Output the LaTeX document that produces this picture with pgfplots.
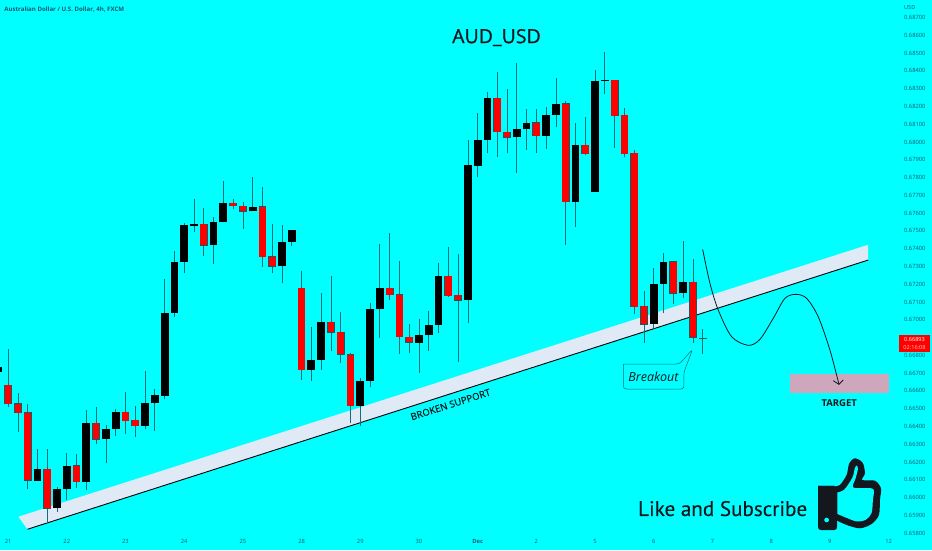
\documentclass[border=0pt]{standalone}
\usepackage{fontspec}
\setmainfont{Open Sans}
\newfontfamily\headfont[FakeBold=0.8]{Open Sans}
\newfontfamily\likefont[FakeBold=0.2]{PT Sans}
\newfontfamily\semifont[FakeBold=0.4]{Open Sans}
\usepackage{pgfplots}
\usepackage{pgfplotstable}
\pgfplotsset{compat=1.18}

\definecolor{bgcyan}{HTML}{00FFFF}
\definecolor{wickc}{HTML}{0F6E78}
\definecolor{edgec}{HTML}{1A5A60}
\definecolor{labelc}{HTML}{125A72}
\definecolor{bandc}{HTML}{DFEAF6}
\definecolor{targetc}{HTML}{CFA7BC}
\definecolor{thumbc}{HTML}{15171F}

% i low bottom top high
\pgfplotstableread{
i low bot top high
0 0.66508 0.66526 0.66631 0.66836
1 0.66371 0.66478 0.66528 0.66586
2 0.66048 0.66097 0.66478 0.66526
4 0.65855 0.65940 0.66159 0.66273
7 0.66056 0.66090 0.66179 0.66245
9 0.66301 0.66328 0.66418 0.66511
12 0.66358 0.66433 0.66479 0.66594
13 0.66343 0.66403 0.66434 0.66515
20 0.67359 0.67419 0.67537 0.67629
23 0.67621 0.67640 0.67655 0.67677
24 0.67512 0.67610 0.67638 0.67661
26 0.67299 0.67355 0.67636 0.67749
27 0.67261 0.67301 0.67355 0.67539
30 0.66661 0.66719 0.67177 0.67273
33 0.66824 0.66929 0.66988 0.67246
34 0.66759 0.66806 0.66929 0.67044
35 0.66418 0.66515 0.66804 0.66811
39 0.67111 0.67141 0.67179 0.67486
40 0.66808 0.66905 0.67141 0.67331
41 0.66811 0.66873 0.66903 0.66974
45 0.67130 0.67136 0.67246 0.67411
46 0.66764 0.67109 0.67138 0.67370
50 0.67917 0.68056 0.68245 0.68392
51 0.67936 0.68026 0.68056 0.68296
54 0.67940 0.68034 0.68109 0.68184
57 0.67422 0.67664 0.68215 0.68232
59 0.67927 0.67934 0.67983 0.68139
62 0.67968 0.68148 0.68347 0.68347
63 0.67914 0.67934 0.68150 0.68189
64 0.67033 0.67074 0.67936 0.67955
65 0.66871 0.66974 0.67076 0.67160
68 0.67087 0.67149 0.67327 0.67329
70 0.66871 0.66901 0.67213 0.67340
}\redc

\pgfplotstableread{
i low bot top high
-1 0.66706 0.66706 0.66732 0.66732
3 0.66093 0.66093 0.66159 0.66275
5 0.65921 0.65940 0.66048 0.66061
6 0.65986 0.66048 0.66179 0.66249
8 0.66043 0.66090 0.66418 0.66493
10 0.66193 0.66328 0.66384 0.66408
11 0.66348 0.66384 0.66481 0.66496
14 0.66384 0.66403 0.66530 0.66712
15 0.66374 0.66530 0.66575 0.66609
16 0.66553 0.66573 0.67038 0.67229
17 0.67017 0.67038 0.67325 0.67385
18 0.67261 0.67325 0.67531 0.67546
19 0.67492 0.67529 0.67537 0.67681
21 0.67312 0.67419 0.67550 0.67580
22 0.67548 0.67548 0.67655 0.67780
25 0.67610 0.67610 0.67636 0.67805
28 0.67205 0.67301 0.67436 0.67531
29 0.67415 0.67436 0.67505 0.67505
31 0.66654 0.66719 0.66772 0.66961
32 0.66718 0.66772 0.66988 0.67153
36 0.66403 0.66515 0.66658 0.66671
37 0.66620 0.66656 0.67059 0.67093
38 0.66899 0.67059 0.67179 0.67426
42 0.66703 0.66871 0.66913 0.67003
43 0.66826 0.66913 0.66969 0.67051
44 0.66924 0.66969 0.67246 0.67318
47 0.66980 0.67109 0.67869 0.68011
48 0.67805 0.67867 0.68009 0.68161
49 0.67936 0.68009 0.68245 0.68283
52 0.67827 0.68026 0.68071 0.68442
53 0.67955 0.68071 0.68109 0.68184
55 0.67961 0.68034 0.68150 0.68195
56 0.68082 0.68150 0.68214 0.68360
58 0.67524 0.67664 0.67983 0.68109
60 0.67721 0.67721 0.68343 0.68405
61 0.68268 0.68343 0.68347 0.68504
66 0.66950 0.66974 0.67203 0.67289
67 0.67036 0.67203 0.67325 0.67377
69 0.67121 0.67149 0.67213 0.67441
}\blackc

\pgfplotstableread{
i low bot top high
71 0.66808 0.66890 0.66899 0.66946
}\lastc

\pgfplotsset{
    full/.style={scale only axis, width=932pt, height=550pt, at={(0,0)}, anchor=south west},
    bar/.style n args={2}{draw=none, mark=none, forget plot,
        error bars/.cd, y dir=plus, y explicit, error mark=none,
        error bar style={draw=#1, line width=#2}},
}

\begin{document}
\begin{tikzpicture}
% drawings, in picture pixels
\begin{axis}[full, hide axis, xmin=0, xmax=932, ymin=0, ymax=550, y dir=reverse]
\addplot[fill=bgcyan, draw=none] coordinates {(0,0) (932,0) (932,550) (0,550)};
% band and support line
\addplot[fill=bandc, draw=none] coordinates {(18.3,516.7) (868.3,244.7) (868.3,260) (27.3,529.3)};
\addplot[black, line width=0.9pt] coordinates {(27.3,529.3) (868.3,260)};
% target zone
\addplot[fill=targetc, draw=none] coordinates {(790,374.3) (889,374.3) (889,393.3) (790,393.3)};
% projected path
\addplot[thumbc, line width=0.8pt, smooth] coordinates {
    (702.7,249.3) (710,283.3) (718.3,310) (731.7,336.7) (748.3,345.3) (760,339.3)
    (773.3,318.3) (785,298.3) (796,294.3) (806.7,298.3) (818.3,316.7) (830,350) (839,384.3)};
\addplot[thumbc, line width=0.8pt] coordinates {(833.3,380.7) (839,384.3) (843.3,380)};
% breakout callout
\addplot[fill=bgcyan, draw=wickc, line width=0.5pt, rounded corners=3pt] coordinates {
    (623.3,364) (679.3,364) (692.7,349.3) (684,372) (684,389) (623.3,389) (623.3,364)};
% thumb
\addplot[fill=thumbc, draw=thumbc, line width=0.3pt, rounded corners=3pt] coordinates {
    (818.3,486) (837,486) (837,530) (818.3,530) (818.3,486)};
\addplot[fill=thumbc, draw=none, smooth] coordinates {
    (836,486) (840,485) (846.7,475) (849.3,463.3) (855,458.3) (862.7,462.7) (865,473.3)
    (862.3,480) (875,480.7) (881,488.3) (880,500) (879,515) (871.7,524) (860,528.3)
    (846.7,525) (836,520)};
\addplot[fill=bgcyan, draw=none, smooth] coordinates {
    (837.5,492.5) (844.5,489.5) (852.5,477.5) (855,468) (856.8,465.5) (858,469)
    (855.7,478.3) (853.5,487.5) (871,488.2) (874,491) (873,500) (871.7,513) (866,519.7)
    (857,521.5) (847,518) (837.5,514)};
\addplot[only marks, mark=*, mark size=2.8pt, mark options={fill=bgcyan, draw=none}] coordinates {(826.7,520)};
% last price box
\addplot[fill=red, draw=none] coordinates {(899.3,334.7) (930,334.7) (930,351.7) (899.3,351.7)};
% texts
\node[font=\fontsize{19.5}{20}\selectfont\headfont, text=thumbc] at (axis cs:496.5,37.5) {AUD\_USD};
\node[font=\fontsize{21.1}{23}\selectfont\likefont, text=thumbc, anchor=base west, inner sep=0pt] at (axis cs:638,516) {Like and Subscribe};
\node[font=\fontsize{9.5}{10}\selectfont\bfseries, text=thumbc] at (axis cs:839.3,403) {TARGET};
\node[font=\fontsize{9.6}{10}\selectfont\semifont, text=thumbc, rotate=17.7] at (axis cs:450.5,404.5) {BROKEN SUPPORT};
\node[font=\fontsize{12.5}{13}\selectfont\itshape, text=thumbc] at (axis cs:653.5,376.5) {Breakout};
\node[font=\fontsize{6.1}{7}\selectfont\bfseries, text=labelc, anchor=west, inner sep=0pt] at (axis cs:4,9) {Australian Dollar / U.S. Dollar, 4h, FXCM};
\node[font=\fontsize{5.6}{6}\selectfont, text=labelc, anchor=west, inner sep=0pt] at (axis cs:904,7) {USD};
\node[font=\fontsize{5.6}{6}\selectfont, text=white, inner sep=0pt] at (axis cs:914.6,339.3) {0.66893};
\node[font=\fontsize{5.6}{6}\selectfont, text=red!25!white, inner sep=0pt] at (axis cs:914.6,347) {02:16:08};
\end{axis}

% candles and scales, in bar number and price
\begin{axis}[full,
    xmin=-0.8176, xmax=94.43, ymin=0.657052, ymax=0.687984,
    axis line style={draw=none}, major tick length=0pt,
    xtick={0,6,...,90},
    xticklabels={21,22,23,24,25,28,29,30,\textbf{Dec},2,5,6,7,8,9,12},
    x tick label style={anchor=center, yshift=8.5pt, inner sep=0pt, font=\fontsize{5.8}{6}\selectfont, text=labelc},
    ytick={0.658,0.659,0.660,0.661,0.662,0.663,0.664,0.665,0.666,0.667,0.668,0.670,0.671,0.672,0.673,0.674,0.675,0.676,0.677,0.678,0.679,0.680,0.681,0.682,0.683,0.684,0.685,0.686,0.687},
    yticklabel pos=right, scaled y ticks=false,
    y tick label style={anchor=west, xshift=-28pt, inner sep=0pt, font=\fontsize{5.8}{6}\selectfont, text=labelc,
        /pgf/number format/fixed, /pgf/number format/fixed zerofill, /pgf/number format/precision=5,
        /pgf/number format/assume math mode=true},
]
% wicks
\addplot[bar={wickc}{0.75pt}] table[x=i, y=low, y error plus expr=\thisrow{high}-\thisrow{low}] {\redc};
\addplot[bar={wickc}{0.75pt}] table[x=i, y=low, y error plus expr=\thisrow{high}-\thisrow{low}] {\blackc};
\addplot[bar={wickc}{0.75pt}] table[x=i, y=low, y error plus expr=\thisrow{high}-\thisrow{low}] {\lastc};
% bodies
\addplot[bar={edgec}{7.8pt}] table[x=i, y expr=\thisrow{bot}-0.00002, y error plus expr=\thisrow{top}-\thisrow{bot}+0.00004] {\redc};
\addplot[bar={red}{6.6pt}] table[x=i, y=bot, y error plus expr=\thisrow{top}-\thisrow{bot}] {\redc};
\addplot[bar={black}{7.8pt}] table[x=i, y=bot, y error plus expr=\thisrow{top}-\thisrow{bot}] {\blackc};
\addplot[bar={black!75!cyan}{7.8pt}] table[x=i, y=bot, y error plus expr=\thisrow{top}-\thisrow{bot}] {\lastc};
\end{axis}
\end{tikzpicture}
\end{document}
